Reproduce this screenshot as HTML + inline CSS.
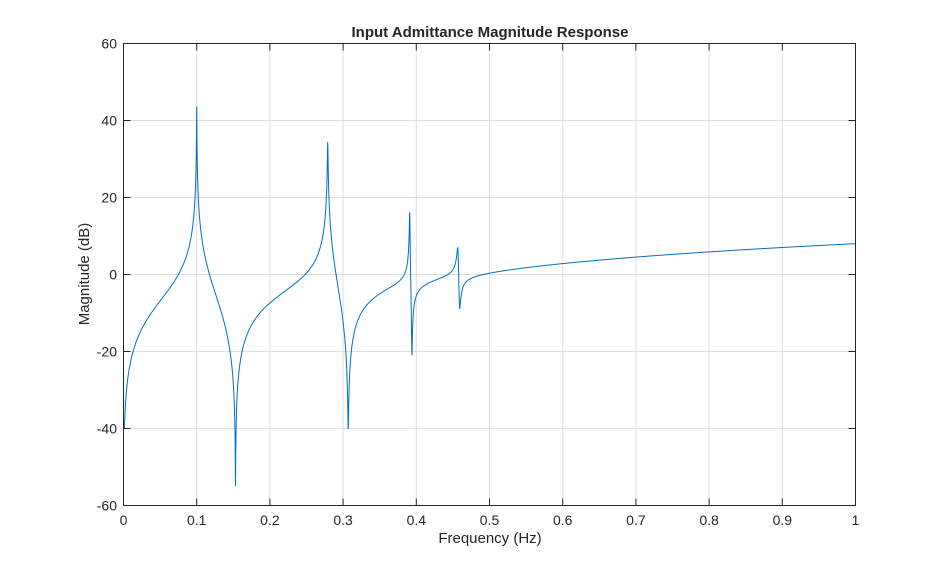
<!DOCTYPE html>
<html><head><meta charset="utf-8"><style>
html,body{margin:0;padding:0;background:#fff;}
svg text{font-family:"Liberation Sans",sans-serif;fill:#262626;}
</style></head><body>
<svg id="s" width="946" height="569" xmlns="http://www.w3.org/2000/svg">
<rect width="946" height="569" fill="#fff"/>
<g id="grid" stroke="#dfdfdf" stroke-width="1"></g>
<path id="curve" fill="none" stroke="#0072bd" stroke-width="1"/>
<rect x="123.5" y="43.5" width="732" height="462" fill="none" stroke="#262626" stroke-width="1"/>
<g id="ticks" stroke="#262626" stroke-width="1"></g>
<g id="labels" font-size="14"></g>
<text x="490" y="37" text-anchor="middle" font-size="15" font-weight="bold">Input Admittance Magnitude Response</text>
<text x="490" y="543" text-anchor="middle" font-size="15">Frequency (Hz)</text>
<text transform="translate(89,274) rotate(-90)" text-anchor="middle" font-size="15">Magnitude (dB)</text>
</svg>
<script>
var L=123.5,R=855.5,T=43.5,B=505.5,NS="http://www.w3.org/2000/svg";
function X(f){return L+(R-L)*f;}function Y(d){return B-(B-T)*(d+60)/120;}
var g=document.getElementById('grid'),tk=document.getElementById('ticks'),lb=document.getElementById('labels');
function el(p,t,a,txt){var e=document.createElementNS(NS,t);for(var k in a)e.setAttribute(k,a[k]);if(txt!==undefined)e.textContent=txt;p.appendChild(e);}
for(var i=0;i<=10;i++){var x=X(i/10);if(i>0&&i<10)el(g,'line',{x1:x,x2:x,y1:T,y2:B});
el(tk,'line',{x1:x,x2:x,y1:B,y2:B-7});el(tk,'line',{x1:x,x2:x,y1:T,y2:T+7});
el(lb,'text',{x:x,y:525,'text-anchor':'middle'},i==0?'0':i==10?'1':(i/10).toString());}
for(var d=-60;d<=60;d+=20){var y=Y(d);if(d>-60&&d<60)el(g,'line',{x1:L,x2:R,y1:y,y2:y});
el(tk,'line',{x1:L,x2:L+7,y1:y,y2:y});el(tk,'line',{x1:R,x2:R-7,y1:y,y2:y});
el(lb,'text',{x:117,y:y+5,'text-anchor':'end'},String(d));}
var P=[0.1,0.279,0.391,0.457],Z=[0.153,0.307,0.394,0.459],dp=[0.0014,0.00125,0.0009,0.0022],dz=[0.00095,0.0012,0.0009,0.002],K=2.61;
function mag(f){var re=K*f,im=0;
function mul(a,b){var r=re*a-im*b,i=re*b+im*a;re=r;im=i;}
function div(a,b){var m=a*a+b*b,r=(re*a+im*b)/m,i=(im*a-re*b)/m;re=r;im=i;}
for(var k=0;k<4;k++){mul(Z[k]*Z[k]-f*f,dz[k]*f*Z[k]*2);div(P[k]*P[k]-f*f,dp[k]*f*P[k]*2);}
return 20*Math.log10(Math.sqrt(re*re+im*im));}
var dstr='',N=8000;
for(var i=0;i<=N;i++){var f=0.0013+i*(1-0.0013)/N;var v=Math.max(-59,Math.min(59,mag(f)));dstr+=(i?'L':'M')+X(f).toFixed(2)+','+Y(v).toFixed(2);}
document.getElementById('curve').setAttribute('d',dstr);
</script>
</body></html>
